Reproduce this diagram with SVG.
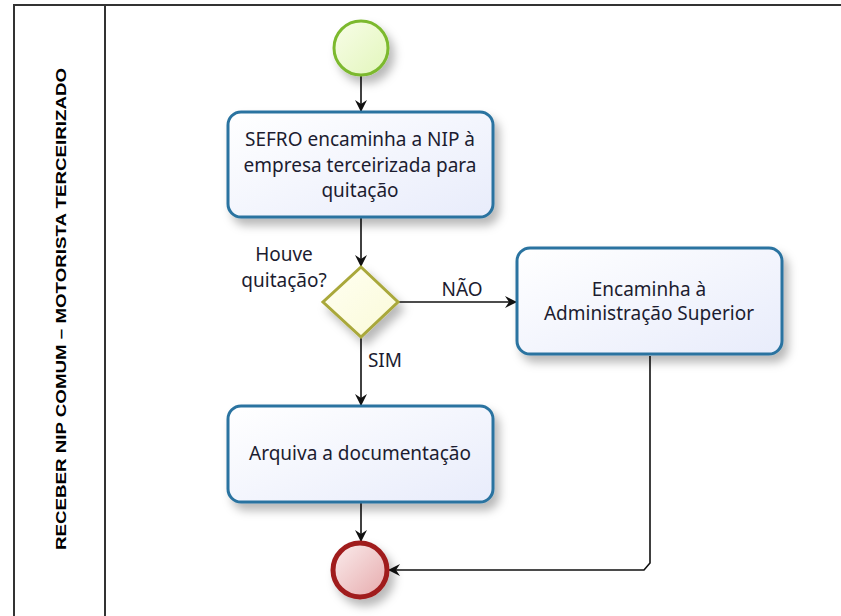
<svg xmlns="http://www.w3.org/2000/svg" width="841" height="616" viewBox="0 0 841 616">
<style>
.t{font-family:"Noto Sans","Open Sans","DejaVu Sans",sans-serif;font-size:19px;fill:#1c1c30;text-anchor:middle}
.task{fill:url(#gTask);stroke:#2a73a0;stroke-width:3}
.con{fill:none;stroke:#111;stroke-width:1.6}
.frame{fill:none;stroke:#333;stroke-width:2}
</style>
<defs>
<linearGradient id="gTask" x1="0" y1="0" x2="1" y2="1">
<stop offset="0" stop-color="#ffffff"/><stop offset="1" stop-color="#e8ecfb"/>
</linearGradient>
<linearGradient id="gStart" x1="0" y1="0" x2="1" y2="1">
<stop offset="0" stop-color="#f8fde8"/><stop offset="1" stop-color="#e2f6bb"/>
</linearGradient>
<linearGradient id="gEnd" x1="0" y1="0" x2="1" y2="1">
<stop offset="0" stop-color="#fbeeee"/><stop offset="1" stop-color="#e6a9ab"/>
</linearGradient>
<linearGradient id="gGw" x1="0" y1="0" x2="1" y2="1">
<stop offset="0" stop-color="#fffff2"/><stop offset="1" stop-color="#fafad8"/>
</linearGradient>
<filter id="sh" x="-20%" y="-20%" width="150%" height="160%">
<feDropShadow dx="5" dy="7" stdDeviation="5" flood-color="#000" flood-opacity="0.28"/>
</filter>
<marker id="arr" viewBox="0 0 12 12" refX="11" refY="6" markerWidth="12" markerHeight="12" markerUnits="userSpaceOnUse" orient="auto">
<path d="M0,0 L12,6 L0,12 L4,6 Z" fill="#111"/>
</marker>
</defs>
<g id="pool">
<path class="frame" d="M14,616 L14,5 L841,5"/>
<line class="frame" x1="105" y1="5" x2="105" y2="616"/>
<text transform="translate(66,309) rotate(-90)" style="font-family:'Liberation Sans','DejaVu Sans',sans-serif;font-size:15px;font-weight:bold;fill:#000;text-anchor:middle" textLength="482" lengthAdjust="spacingAndGlyphs">RECEBER NIP COMUM – MOTORISTA  TERCEIRIZADO</text>
</g>
<g id="connectors">
<line class="con" x1="361" y1="76" x2="361" y2="111" marker-end="url(#arr)"/>
<line class="con" x1="361" y1="218" x2="361" y2="266" marker-end="url(#arr)"/>
<line class="con" x1="397" y1="302" x2="516" y2="302" marker-end="url(#arr)"/>
<line class="con" x1="361" y1="337" x2="361" y2="405" marker-end="url(#arr)"/>
<line class="con" x1="361" y1="503" x2="361" y2="541" marker-end="url(#arr)"/>
<path class="con" d="M650,356 L650,563 L644,570 L389,570" marker-end="url(#arr)"/>
<text class="t" x="462" y="296">NÃO</text>
<text class="t" x="385" y="367">SIM</text>
</g>
<g id="start">
<circle cx="361" cy="48" r="27" fill="url(#gStart)" stroke="#7cb92e" stroke-width="3" filter="url(#sh)"/>
</g>
<g id="task1">
<rect class="task" x="228" y="112" width="265" height="105" rx="13" filter="url(#sh)"/>
<text class="t" x="360" y="146">SEFRO encaminha a NIP à</text>
<text class="t" x="360" y="172">empresa terceirizada para</text>
<text class="t" x="360" y="197">quitação</text>
</g>
<g id="gateway">
<polygon points="361,267 398,302 361,337 323,302" fill="url(#gGw)" stroke="#a9a83a" stroke-width="3" filter="url(#sh)"/>
<text class="t" x="284" y="261">Houve</text>
<text class="t" x="284" y="287">quitação?</text>
</g>
<g id="task2">
<rect class="task" x="517" y="248" width="265" height="106" rx="13" filter="url(#sh)"/>
<text class="t" x="649" y="296">Encaminha à</text>
<text class="t" x="649" y="320">Administração Superior</text>
</g>
<g id="task3">
<rect class="task" x="228" y="406" width="265" height="96" rx="13" filter="url(#sh)"/>
<text class="t" x="360" y="460">Arquiva a documentação</text>
</g>
<g id="end">
<circle cx="360" cy="570" r="27" fill="url(#gEnd)" stroke="#a01c1e" stroke-width="5" filter="url(#sh)"/>
</g>
</svg>
